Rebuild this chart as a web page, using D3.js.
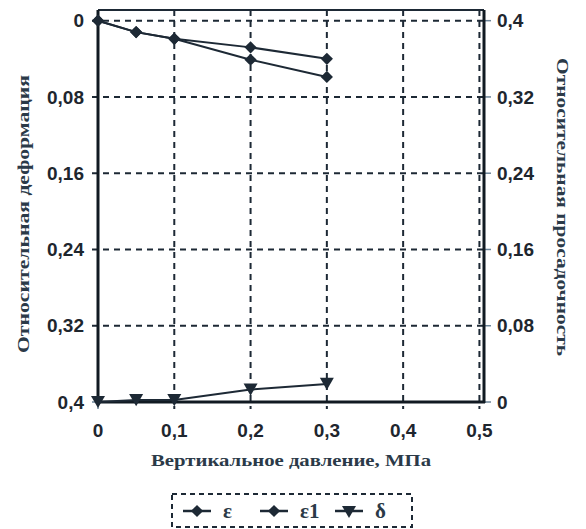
<!DOCTYPE html>
<html>
<head>
<meta charset="utf-8">
<script src="https://cdnjs.cloudflare.com/ajax/libs/d3/7.8.5/d3.min.js"></script>
<style>
  body { margin: 0; background: #fff; }
  svg { display: block; }
  .tick-label { font-family: "Liberation Sans", Arial, sans-serif; font-size: 19px; font-weight: bold; fill: #1e262e; }
  .title { font-family: "Liberation Serif", "DejaVu Serif", serif; font-weight: bold; fill: #2b3a48; }
</style>
</head>
<body>
<svg id="chart" width="586" height="529"></svg>
<script>
// data
var pressure = [0, 0.05, 0.1, 0.2, 0.3]
var eps  = [0, 0.012, 0.019, 0.041, 0.059]
var eps1 = [0, 0.012, 0.019, 0.028, 0.040]
var delta = [0, 0.002, 0.002, 0.013, 0.019]

var xTicks = [0, 0.1, 0.2, 0.3, 0.4, 0.5]
var leftTicks = [0, 0.08, 0.16, 0.24, 0.32, 0.4]
var rightTicks = [0, 0.08, 0.16, 0.24, 0.32, 0.4]
var seriesNames = ["ε", "ε1", "δ"]

var ink = "#1d2935"
var fmt = d => d === 0 ? "0" : String(d).replace(".", ",")

var svg = d3.select("#chart")
var margin = {top: 10, left: 98},
    width = 386, height = 392

var x = d3.scaleLinear().domain([0, 0.506]).range([0, width])
var yL = d3.scaleLinear().domain([-0.0112, 0.4]).range([0, height])
var yR = d3.scaleLinear().domain([0, 0.4112]).range([height, 0])

var g = svg.append("g")
  .attr("transform", "translate(" + margin.left + "," + margin.top + ")")

// grid
g.selectAll(".hgrid").data(leftTicks.slice(0, -1)).enter()
  .append("line")
  .attr("x1", -6).attr("x2", width)
  .attr("y1", d => yL(d)).attr("y2", d => yL(d))
  .attr("stroke", ink).attr("stroke-width", 2)
  .attr("stroke-dasharray", "6,5")

g.selectAll(".vgrid").data(xTicks.slice(1)).enter()
  .append("line")
  .attr("x1", d => x(d)).attr("x2", d => x(d))
  .attr("y1", 0).attr("y2", height + 7)
  .attr("stroke", ink).attr("stroke-width", 2)
  .attr("stroke-dasharray", "6,5")

// small outer ticks
g.selectAll(".rtick").data(rightTicks).enter()
  .append("line")
  .attr("x1", width).attr("x2", width + 7)
  .attr("y1", d => yR(d)).attr("y2", d => yR(d))
  .attr("stroke", "#6d8599").attr("stroke-width", 1.5)
g.append("line").attr("x1", -6).attr("x2", 0)
  .attr("y1", yL(0.4)).attr("y2", yL(0.4))
  .attr("stroke", "#6d8599").attr("stroke-width", 1.5)
g.append("line").attr("x1", 0).attr("x2", 0)
  .attr("y1", height).attr("y2", height + 7)
  .attr("stroke", "#6d8599").attr("stroke-width", 1.5)

// frame
g.append("line").attr("x1", 0).attr("x2", width).attr("y1", 0).attr("y2", 0)
  .attr("stroke", ink).attr("stroke-width", 2)
g.append("line").attr("x1", 0).attr("x2", 0).attr("y1", 0).attr("y2", height)
  .attr("stroke", "#111a22").attr("stroke-width", 3)
g.append("line").attr("x1", width).attr("x2", width).attr("y1", 0).attr("y2", height + 1)
  .attr("stroke", "#111a22").attr("stroke-width", 3)
g.append("line").attr("x1", 0).attr("x2", width + 1).attr("y1", height).attr("y2", height)
  .attr("stroke", "#111a22").attr("stroke-width", 3)

// tick labels
g.selectAll(".lt").data(leftTicks).enter()
  .append("text").attr("class", "tick-label")
  .attr("x", -14).attr("y", d => yL(d)).attr("dy", "0.35em")
  .attr("text-anchor", "end").text(fmt)

g.selectAll(".rt").data(rightTicks).enter()
  .append("text").attr("class", "tick-label")
  .attr("x", width + 13).attr("y", d => yR(d)).attr("dy", "0.35em")
  .attr("text-anchor", "start").text(fmt)

g.selectAll(".xt").data(xTicks).enter()
  .append("text").attr("class", "tick-label")
  .attr("x", d => x(d)).attr("y", height + 35)
  .attr("text-anchor", "middle").text(fmt)

// axis titles
svg.append("text").attr("class", "title")
  .attr("transform", "translate(29,214) rotate(-90)")
  .attr("text-anchor", "middle").attr("font-size", 17)
  .attr("textLength", 278).attr("lengthAdjust", "spacingAndGlyphs")
  .text("Относительная деформация")

svg.append("text").attr("class", "title")
  .attr("transform", "translate(557,207) rotate(90)")
  .attr("text-anchor", "middle").attr("font-size", 17)
  .attr("textLength", 298).attr("lengthAdjust", "spacingAndGlyphs")
  .text("Относительная просадочность")

svg.append("text").attr("class", "title")
  .attr("x", 291).attr("y", 466)
  .attr("text-anchor", "middle").attr("font-size", 17)
  .attr("textLength", 280).attr("lengthAdjust", "spacingAndGlyphs")
  .text("Вертикальное давление, МПа")

// series
var lineL = d3.line().x((d, i) => x(pressure[i])).y(d => yL(d))
var lineR = d3.line().x((d, i) => x(pressure[i])).y(d => yR(d))
var diamond = d3.symbol().type(d3.symbolDiamond2).size(95)
var tri = d3.symbol().type(d3.symbolTriangle).size(85)

;[eps, eps1].forEach(function(s) {
  g.append("path").datum(s)
    .attr("fill", "none").attr("stroke", ink).attr("stroke-width", 2)
    .attr("d", lineL)
  g.selectAll(null).data(s).enter()
    .append("path")
    .attr("d", diamond)
    .attr("transform", (d, i) => "translate(" + x(pressure[i]) + "," + yL(d) + ")")
    .attr("fill", ink)
})

g.append("path").datum(delta)
  .attr("fill", "none").attr("stroke", ink).attr("stroke-width", 2)
  .attr("d", lineR)
g.selectAll(null).data(delta).enter()
  .append("path")
  .attr("d", tri)
  .attr("transform", (d, i) => "translate(" + x(pressure[i]) + "," + (yR(d) - 2) + ") rotate(180)")
  .attr("fill", ink)

// legend
var leg = svg.append("g").attr("transform", "translate(172,494)")
leg.append("rect").attr("width", 240).attr("height", 33)
  .attr("fill", "none").attr("stroke", ink).attr("stroke-width", 2)
  .attr("stroke-dasharray", "5,4")

var legX = [11, 88, 163]
var legSym = [diamond, diamond, tri]
seriesNames.forEach(function(n, i) {
  var item = leg.append("g").attr("transform", "translate(" + legX[i] + ",17)")
  item.append("line").attr("x1", 0).attr("x2", 28)
    .attr("stroke", ink).attr("stroke-width", 2.5)
  item.append("path").attr("d", legSym[i])
    .attr("transform", i === 2 ? "translate(14,-1) rotate(180)" : "translate(14,0)")
    .attr("fill", ink)
  item.append("text").attr("class", "title")
    .attr("x", 40).attr("y", 0).attr("dy", "0.35em")
    .attr("font-size", 21).attr("font-weight", "normal")
    .text(n)
})
</script>
</body>
</html>
